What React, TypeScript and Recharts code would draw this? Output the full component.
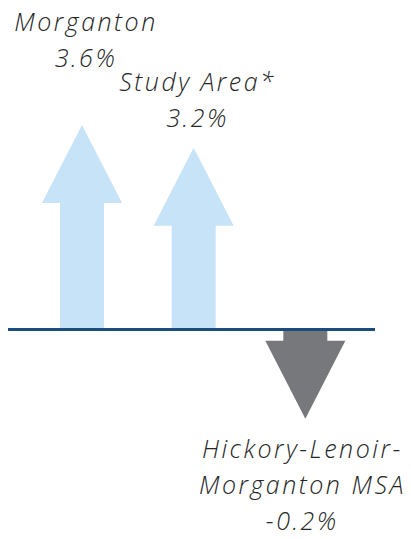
import { BarChart, Bar, XAxis, YAxis, ReferenceLine } from 'recharts';

// percent change by area
const categories = ['Morganton', 'Study Area*', 'Hickory-Lenoir-Morganton MSA'];
const growth = [3.6, 3.2, -0.2];

const data = categories.map((name, i) => ({ name, value: growth[i] }));

const UP = '#c6e3f8';
const DOWN = '#77787c';
const HEAD = 78;
const LINE = 36;
// distance between arrow tip and the nearest label line
const labelGap = [58, 21, 39];

const textStyle = {
  fontFamily: "'Open Sans', sans-serif",
  fontStyle: 'italic',
  fontWeight: 300,
  fontSize: 25,
  letterSpacing: 2.5,
  fill: '#262626',
};

function wrap(name: string) {
  if (name.length < 16) return [name];
  const cut = name.lastIndexOf('-') + 1;
  return [name.slice(0, cut), name.slice(cut)];
}

function Arrow(props: any) {
  const { x, y, width, height, index, payload } = props;
  const v = payload.value;
  const top = Math.min(y, y + height);
  const bottom = Math.max(y, y + height);
  const len = bottom - top;
  const cx = x + width / 2;
  const half = width / 2;
  const sh = width * 0.275;
  const lines = [...wrap(payload.name), `${v.toFixed(1)}%`];

  if (v >= 0) {
    const tip = top;
    const neck = tip + HEAD;
    const pts = [
      [cx - sh, bottom], [cx - sh, neck], [cx - half, neck], [cx, tip],
      [cx + half, neck], [cx + sh, neck], [cx + sh, bottom],
    ];
    const last = tip - labelGap[index];
    return (
      <g>
        <polygon points={pts.map((p) => p.join(',')).join(' ')} fill={UP} />
        {lines.map((t, i) => (
          <text key={t} x={cx + 4} y={last - (lines.length - 1 - i) * LINE} textAnchor="middle" style={textStyle}>
            {t}
          </text>
        ))}
      </g>
    );
  }

  // short drops get the head added past the bar end
  const neck = len > HEAD * 1.5 ? bottom - HEAD : bottom;
  const tip = neck + HEAD;
  const pts = [
    [cx - sh, top], [cx - sh, neck], [cx - half, neck], [cx, tip],
    [cx + half, neck], [cx + sh, neck], [cx + sh, top],
  ];
  const first = tip + labelGap[index];
  return (
    <g>
      <polygon points={pts.map((p) => p.join(',')).join(' ')} fill={DOWN} />
      {lines.map((t, i) => (
        <text key={t} x={cx - 3} y={first + i * LINE} textAnchor="middle" style={textStyle}>
          {t}
        </text>
      ))}
    </g>
  );
}

export default function App() {
  return (
    <div style={{ position: 'absolute', left: 0, top: 0, width: 411, height: 539, background: '#fff' }}>
      <BarChart width={411} height={539} data={data} margin={{ top: 0, right: 36, bottom: 5, left: 8 }}>
        <XAxis dataKey="name" hide padding={{ left: 18, right: 14 }} />
        <YAxis hide domain={[-3.6, 5.8]} />
        <Bar dataKey="value" barSize={80} shape={<Arrow />} isAnimationActive={false} />
        <ReferenceLine y={0} stroke="#1b4c7c" strokeWidth={3} ifOverflow="extendDomain" />
      </BarChart>
    </div>
  );
}
